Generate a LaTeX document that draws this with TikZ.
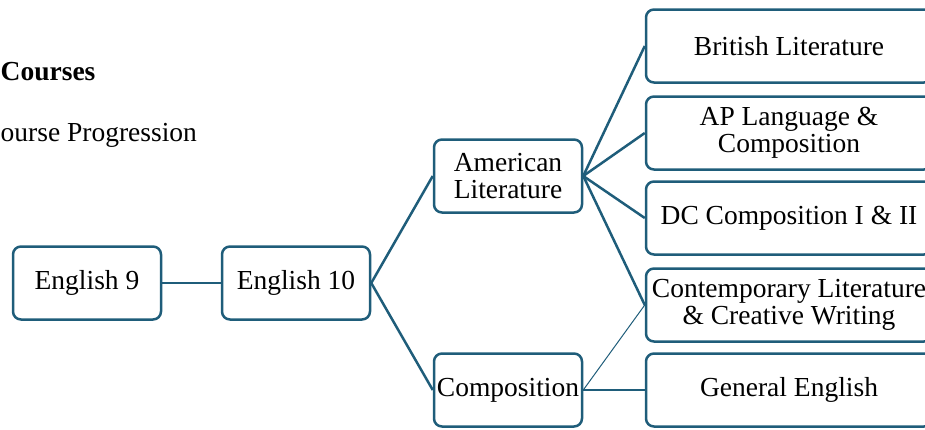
\documentclass[tikz,border=0pt]{standalone}
\usepackage{fontspec}
\setmainfont{Liberation Serif}
\usepackage{xcolor}
\definecolor{pathblue}{RGB}{31,93,122}

\tikzset{
  course/.style={draw=pathblue, line width=2.5pt, rounded corners=8pt,
    minimum width=148pt, minimum height=73pt, inner sep=0pt, align=center,
    font=\fontsize{27.5}{27.5}\selectfont},
  elective/.style={course, minimum width=286pt},
  link/.style={draw=pathblue, line width=2.5pt},
  thinlink/.style={draw=pathblue, line width=1pt},
}

\begin{document}
\begin{tikzpicture}[x=1pt,y=-1pt]
  \useasboundingbox (0,0) rectangle (925,429);
  \clip (0,0) rectangle (925,429);

  % Heading
  \node[anchor=base west, inner sep=0pt, font=\bfseries\fontsize{27.5}{28}\selectfont] (title) at (0.5,80) {Courses};
  \node[anchor=base west, inner sep=0pt, font=\fontsize{27.5}{28}\selectfont] (subtitle) at (0.5,141) {ourse Progression};

  % Core courses
  \node[course] (eng9) at (87,283) {English 9};
  \node[course] (eng10) at (296,283) {English 10};
  \node[course] (amlit) at (508,176) {American\\Literature};
  \node[course] (comp) at (508,390) {Composition};

  % Electives
  \node[elective] (brit) at (789,46) {British Literature};
  \node[elective] (aplang) at (789,133) {AP Language \&\\Composition};
  \node[elective] (dccomp) at (789,218) {DC Composition I \& II};
  \node[elective] (contemp) at (789,305) {Contemporary Literature\\\& Creative Writing};
  \node[elective] (gen) at (789,390) {General English};

  % Connectors
  \draw[link] (eng9.east) -- (eng10.west);
  \draw[link] (eng10.east) -- (amlit.west);
  \draw[link] (eng10.east) -- (comp.west);
  \draw[link] (amlit.east) -- (brit.west);
  \draw[link] (amlit.east) -- (aplang.west);
  \draw[link] (amlit.east) -- (dccomp.west);
  \draw[link] (amlit.east) -- (contemp.west);
  \draw[thinlink] (comp.east) -- (contemp.west);
  \draw[link] (comp.east) -- (gen.west);
\end{tikzpicture}
\end{document}
